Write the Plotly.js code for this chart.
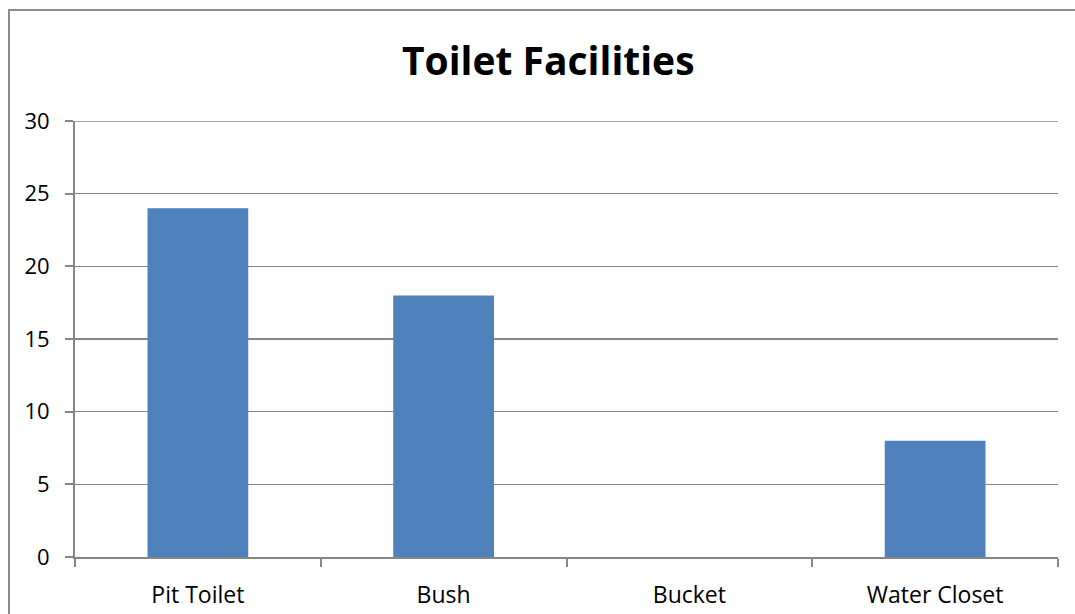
<!DOCTYPE html>
<html>
<head>
<meta charset="utf-8">
<script src="https://cdn.plot.ly/plotly-3.0.1.min.js"></script>
<style>
html,body{margin:0;padding:0;background:#fff;overflow:hidden;}
#chart{position:absolute;left:0;top:0;width:1075px;height:614px;}
#frame{position:absolute;left:8px;top:9px;width:1200px;height:800px;border:2px solid #8c8c8c;pointer-events:none;}
</style>
</head>
<body>
<div id="chart"></div>
<div id="frame"></div>
<script>
const categories = ["Pit Toilet", "Bush", "Bucket", "Water Closet"];
const counts = [24, 18, 0, 8];
const yTicks = [0, 5, 10, 15, 20, 25, 30];

const trace = {
  type: "bar",
  x: categories,
  y: counts,
  marker: {color: "#4F81BD"},
  width: 0.41,
  hoverinfo: "x+y"
};

const FONT = "'Open Sans', sans-serif";

const layout = {
  width: 1075,
  height: 614,
  margin: {l: 75, r: 17, t: 121, b: 57},
  paper_bgcolor: "rgba(0,0,0,0)",
  plot_bgcolor: "#ffffff",
  showlegend: false,
  font: {family: FONT, color: "#000"},
  title: {
    text: "<b>Toilet Facilities</b>",
    font: {size: 39, family: FONT, color: "#000"},
    x: 0.51, xanchor: "center",
    y: 0.9, yanchor: "middle"
  },
  xaxis: {
    type: "category",
    showline: true,
    linecolor: "#868686",
    linewidth: 2,
    ticks: "outside",
    tickson: "boundaries",
    ticklen: 8,
    tickcolor: "#868686",
    tickwidth: 2,
    showgrid: false,
    ticklabelstandoff: 16,
    tickfont: {size: 23, family: FONT},
    automargin: false
  },
  yaxis: {
    range: [0, 30],
    tickvals: yTicks,
    showline: true,
    linecolor: "#868686",
    linewidth: 2,
    ticks: "outside",
    ticklen: 8,
    tickcolor: "#868686",
    tickwidth: 2,
    showgrid: true,
    gridcolor: "#868686",
    gridwidth: 1.5,
    zeroline: false,
    ticklabelstandoff: 11,
    tickfont: {size: 22, family: FONT},
    automargin: false
  },
  shapes: [{
    type: "line", xref: "paper", yref: "y",
    x0: 0, x1: 1, y0: yTicks[yTicks.length - 1], y1: yTicks[yTicks.length - 1],
    line: {color: "#868686", width: 1.5}, layer: "below"
  }]
};

Plotly.newPlot("chart", [trace], layout, {displayModeBar: false, staticPlot: true});
</script>
</body>
</html>
